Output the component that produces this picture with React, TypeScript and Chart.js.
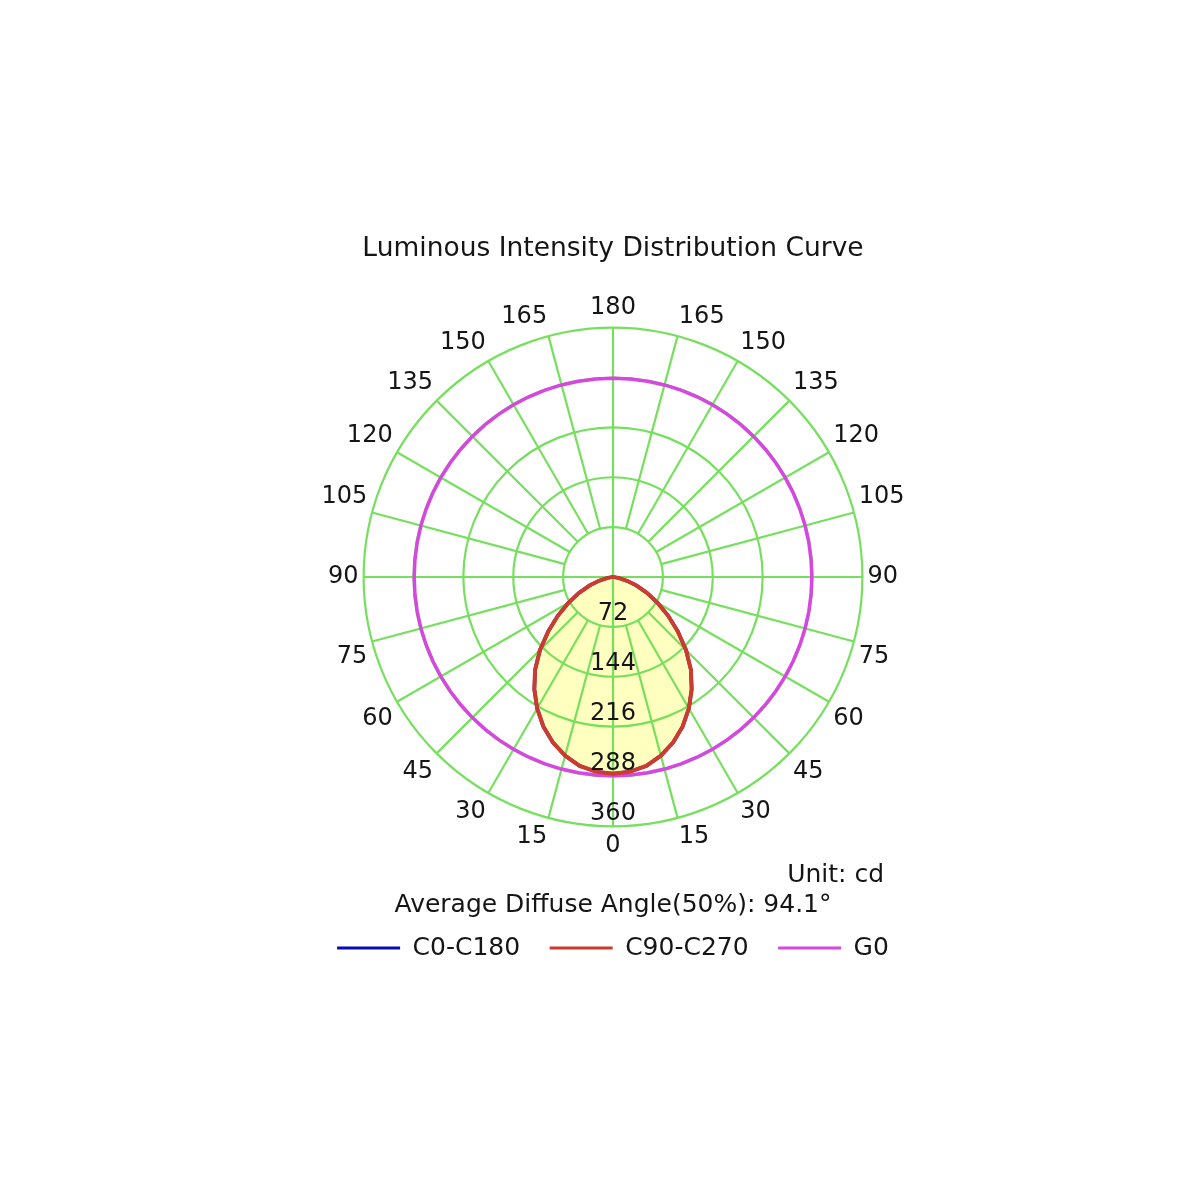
import { useEffect, useRef } from 'react';
import { Chart, registerables } from 'chart.js';

Chart.register(...registerables);

// gamma angles, 0 = straight down, 180 = straight up
const gammaAngles = [
  0, 5, 10, 15, 20, 25, 30, 35, 40, 45, 50, 55, 60, 65, 70, 75, 80, 85, 90,
  95, 100, 105, 110, 115, 120, 125, 130, 135, 140, 145, 150, 155, 160, 165, 170, 175, 180,
];

// intensities in cd
const c0c180 = [
  284, 282, 277, 267, 254, 238, 219, 198, 175, 149, 122, 97, 74, 54, 36, 21, 9, 2, 0,
  0, 0, 0, 0, 0, 0, 0, 0, 0, 0, 0, 0, 0, 0, 0, 0, 0, 0,
];
const c90c270 = [
  284, 282, 277, 267, 254, 238, 219, 198, 175, 149, 122, 97, 74, 54, 36, 21, 9, 2, 0,
  0, 0, 0, 0, 0, 0, 0, 0, 0, 0, 0, 0, 0, 0, 0, 0, 0, 0,
];
const g0 = [
  287, 287, 287, 287, 287, 287, 287, 287, 287, 287, 287, 287, 287, 287, 287, 287, 287, 287, 287,
  287, 287, 287, 287, 287, 287, 287, 287, 287, 287, 287, 287, 287, 287, 287, 287, 287, 287,
];

const intensityTicks = [72, 144, 216, 288, 360];
const seriesNames = ['C0-C180', 'C90-C270', 'G0'];

const titleText = 'Luminous Intensity Distribution Curve';
const diffuseText = 'Average Diffuse Angle(50%): 94.1°';
const unitText = 'Unit: cd';

const FONT = '"DejaVu Sans", Verdana, sans-serif';
const TEXT = '#151515';
const GRID = '#76e05e';
const BLUE = '#0a0ab4';
const RED = '#cc3b2f';
const MAGENTA = '#d646e0';
const FILL = '#ffffc0';

// go round the circle clockwise from the bottom: 0..180 on the left, back down on the right
const mirror = <T,>(arr: T[]) => arr.concat(arr.slice(1, -1).reverse());
const circleGamma = mirror(gammaAngles);

const polarDecor = {
  id: 'polarDecor',
  beforeDatasetsDraw(chart: any) {
    const scale = chart.scales.r;
    const ctx = chart.ctx;
    const inner = scale.getDistanceFromCenterForValue(intensityTicks[0]);
    const outer = scale.getDistanceFromCenterForValue(scale.max);
    ctx.save();
    ctx.strokeStyle = GRID;
    ctx.lineWidth = 2.2;
    circleGamma.forEach((g, i) => {
      if (g % 15 !== 0 || g % 90 === 0) return;
      const a = scale.getPointPosition(i, inner);
      const b = scale.getPointPosition(i, outer);
      ctx.beginPath();
      ctx.moveTo(a.x, a.y);
      ctx.lineTo(b.x, b.y);
      ctx.stroke();
    });
    ctx.restore();
  },
  afterDatasetsDraw(chart: any) {
    const scale = chart.scales.r;
    const ctx = chart.ctx;
    ctx.save();
    ctx.font = `24px ${FONT}`;
    ctx.fillStyle = TEXT;
    ctx.textAlign = 'center';
    ctx.textBaseline = 'middle';
    intensityTicks.forEach((v) => {
      const p = scale.getPointPosition(0, scale.getDistanceFromCenterForValue(v) - 13);
      ctx.fillText(String(v), p.x, p.y);
    });
    ctx.restore();
  },
  afterDraw(chart: any) {
    const scale = chart.scales.r;
    const ctx = chart.ctx;
    ctx.save();
    ctx.font = `25px ${FONT}`;
    ctx.fillStyle = TEXT;
    ctx.textAlign = 'right';
    ctx.textBaseline = 'middle';
    ctx.fillText(unitText, scale.xCenter + 271, scale.yCenter + 298);
    ctx.restore();
  },
};

export default function App() {
  const canvasRef = useRef<HTMLCanvasElement>(null);
  const chartRef = useRef<Chart | null>(null);

  useEffect(() => {
    if (!canvasRef.current) return;
    if (chartRef.current) chartRef.current.destroy();

    chartRef.current = new Chart(canvasRef.current, {
      type: 'radar',
      data: {
        labels: circleGamma.map((g) => (g % 15 === 0 ? String(g) : '')),
        datasets: [
          {
            label: seriesNames[0],
            data: mirror(c0c180),
            borderColor: BLUE,
            borderWidth: 3.5,
            pointRadius: 0,
            fill: false,
            order: 2,
          },
          {
            label: seriesNames[1],
            data: mirror(c90c270),
            borderColor: RED,
            backgroundColor: FILL,
            borderWidth: 4,
            pointRadius: 0,
            fill: 'origin',
            order: 0,
          },
          {
            label: seriesNames[2],
            data: mirror(g0),
            borderColor: MAGENTA,
            borderWidth: 3.5,
            pointRadius: 0,
            fill: false,
            order: 1,
          },
        ],
      },
      options: {
        responsive: false,
        animation: false,
        events: [],
        layout: { padding: { top: 231, bottom: 229.5, left: 26, right: 0 } },
        elements: { line: { tension: 0 } },
        plugins: {
          filler: { drawTime: 'beforeDraw' },
          tooltip: { enabled: false },
          title: {
            display: true,
            text: titleText,
            color: TEXT,
            font: { family: FONT, size: 26.5, weight: 'normal' },
            padding: { top: 2, bottom: 29 },
          },
          subtitle: {
            display: true,
            text: diffuseText,
            position: 'bottom',
            weight: 500,
            color: TEXT,
            font: { family: FONT, size: 25 },
            padding: { top: 28, bottom: -14 },
          },
          legend: {
            position: 'bottom',
            labels: {
              boxWidth: 63,
              boxHeight: 3,
              padding: 29.5,
              color: TEXT,
              font: { family: FONT, size: 25 },
              generateLabels: (chart: any) =>
                chart.data.datasets.map((ds: any, i: number) => ({
                  text: ds.label,
                  fillStyle: ds.borderColor,
                  strokeStyle: ds.borderColor,
                  lineWidth: 0,
                  hidden: false,
                  datasetIndex: i,
                  fontColor: TEXT,
                })),
            },
          },
        },
        scales: {
          r: {
            min: 0,
            max: 360,
            startAngle: 180,
            ticks: { display: false, stepSize: 72 },
            grid: { circular: true, color: GRID, lineWidth: 2.2 },
            angleLines: {
              display: true,
              color: GRID,
              lineWidth: (c: any) => (circleGamma[c.index] % 90 === 0 ? 2.2 : 0),
            },
            pointLabels: {
              display: true,
              padding: 5,
              color: TEXT,
              font: { family: FONT, size: 24 },
            },
          },
        },
      },
      plugins: [polarDecor],
    } as any);

    return () => {
      if (chartRef.current) {
        chartRef.current.destroy();
        chartRef.current = null;
      }
    };
  }, []);

  return (
    <div style={{ position: 'absolute', left: 0, top: 0, width: 1200, height: 1200, background: '#fff' }}>
      <canvas ref={canvasRef} width={1200} height={1200} style={{ width: 1200, height: 1200 }} />
    </div>
  );
}
